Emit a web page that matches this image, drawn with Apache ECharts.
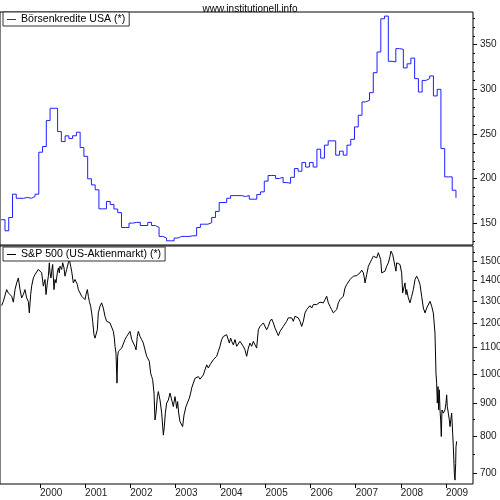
<!DOCTYPE html>
<html><head><meta charset="utf-8">
<script src="https://cdn.jsdelivr.net/npm/echarts@6/dist/echarts.min.js"></script>
<style>html,body{margin:0;padding:0;background:#fff}#c{width:500px;height:500px}</style>
</head><body><div id="c"></div>
<script>
// Börsenkredite USA (monthly, Mrd. USD), starting Feb 1999
const marginStart = 1999.14;
const marginDebt = [154,141.6,156.5,182.6,178,178,179,178,180,182.6,229.6,236,265,278.8,278.8,252.7,241.5,247.9,245,248,252,234.8,225,199.8,193,187.5,166.2,166.2,174.4,171,166,162,145.3,145.3,150.2,151,151,147.5,147.5,151,147.5,145.3,135.3,133.5,130.4,130.4,133.5,135.3,135.3,135.3,136,136,145.3,149,149,150.7,156.5,163.3,173.3,173.3,178,181,181,181,180,181,177,177,182.2,185.2,197.2,203.5,203.5,200.2,201.5,195.6,194.8,201.5,211.3,208.3,218,213,218,213,233,223,237.5,242.3,242.3,226.3,230.8,226.3,237.5,244,257.9,271,285.9,287.8,296.3,318.7,341.8,379,382,331.4,330.7,345.6,344.8,324,328.6,335,312,297,310,312,315,292.6,300,233.7,202,202,187,178.5];

// S&P 500 (decimal year, index level)
const spxDates = [1999.15,1999.187,1999.224,1999.261,1999.298,1999.335,1999.372,1999.409,1999.446,1999.483,1999.52,1999.557,1999.593,1999.63,1999.667,1999.704,1999.741,1999.763,1999.793,1999.815,1999.852,1999.889,1999.926,1999.963,2000.0,2000.037,2000.074,2000.111,2000.133,2000.163,2000.185,2000.207,2000.222,2000.244,2000.259,2000.281,2000.31,2000.333,2000.355,2000.37,2000.384,2000.407,2000.429,2000.443,2000.48,2000.503,2000.532,2000.554,2000.591,2000.628,2000.65,2000.68,2000.702,2000.739,2000.776,2000.813,2000.828,2000.85,2000.887,2000.924,2000.961,2000.998,2001.02,2001.05,2001.072,2001.094,2001.123,2001.146,2001.168,2001.197,2001.22,2001.242,2001.271,2001.293,2001.33,2001.367,2001.404,2001.441,2001.478,2001.515,2001.552,2001.589,2001.626,2001.648,2001.663,2001.685,2001.70,2001.707,2001.722,2001.737,2001.774,2001.811,2001.848,2001.885,2001.922,2001.959,2001.996,2002.033,2002.07,2002.106,2002.129,2002.158,2002.18,2002.217,2002.254,2002.291,2002.328,2002.365,2002.402,2002.424,2002.454,2002.476,2002.498,2002.528,2002.55,2002.572,2002.602,2002.624,2002.661,2002.698,2002.735,2002.757,2002.779,2002.809,2002.846,2002.883,2002.92,2002.956,2002.993,2003.016,2003.03,2003.052,2003.075,2003.104,2003.141,2003.163,2003.193,2003.215,2003.237,2003.267,2003.311,2003.341,2003.363,2003.40,2003.437,2003.474,2003.511,2003.548,2003.585,2003.622,2003.659,2003.696,2003.733,2003.769,2003.806,2003.843,2003.88,2003.917,2003.954,2003.991,2004.028,2004.065,2004.102,2004.139,2004.176,2004.198,2004.228,2004.25,2004.287,2004.324,2004.361,2004.398,2004.434,
2004.472,2004.508,2004.545,2004.582,2004.619,2004.656,2004.693,2004.730,2004.767,2004.804,2004.841,2004.878,2004.915,2004.952,2004.989,2005.026,2005.063,2005.100,2005.137,2005.174,2005.211,2005.248,2005.285,2005.322,2005.359,2005.395,2005.432,2005.469,2005.506,2005.543,2005.580,2005.617,2005.654,2005.691,2005.728,2005.765,2005.802,2005.839,2005.876,2005.913,2005.950,2005.987,2006.024,2006.061,2006.098,2006.135,2006.172,2006.209,2006.246,2006.283,2006.320,2006.357,2006.393,2006.430,2006.467,2006.504,2006.541,2006.578,2006.615,2006.652,2006.689,2006.726,2006.763,2006.800,2006.837,2006.874,2006.911,2006.948,2006.985,2007.022,2007.059,2007.096,2007.133,2007.170,2007.192,2007.207,2007.244,2007.281,2007.318,2007.355,2007.391,2007.428,2007.465,2007.502,2007.524,2007.554,2007.576,2007.613,2007.650,2007.687,2007.724,2007.761,2007.783,2007.820,2007.849,2007.871,2007.893,2007.908,2007.945,2007.982,2008.019,2008.041,2008.071,2008.093,2008.115,2008.130,2008.167,2008.204,2008.241,2008.278,2008.315,2008.352,2008.389,2008.426,2008.463,2008.500,2008.537,2008.574,2008.611,2008.648,2008.685,2008.721,2008.744,2008.758,2008.780,2008.795,2008.810,2008.825,2008.839,2008.854,2008.869,2008.884,2008.898,2008.913,2008.943,2008.980,2009.002,2009.017,2009.031,2009.054,2009.076,2009.091,2009.128,2009.150,2009.165,2009.187,2009.202,2009.217,2009.224,2009.239];
const spxValues = [1279,1299,1307,1355,1339,1331,1323,1295,1355,1388,1413,1355,1315,1331,1355,1315,1299,1246,1331,1372,1413,1430,1439,1457,1465,1439,1372,1405,1331,1388,1422,1492,1439,1413,1448,1483,1355,1405,1388,1380,1439,1465,1439,1474,1457,1492,1465,1422,1457,1492,1510,1474,1448,1388,1405,1397,1380,1355,1363,1323,1315,1307,1331,1355,1323,1299,1276,1246,1209,1152,1138,1132,1173,1246,1276,1292,1268,1231,1209,1216,1202,1194,1166,1138,1105,1078,1003,968,1066,1085,1078,1098,1105,1132,1145,1152,1166,1132,1118,1105,1091,1145,1166,1145,1132,1118,1091,1066,1059,1047,1003,991,980,934,848,869,922,939,911,869,803,828,869,901,911,934,928,890,922,901,884,906,869,843,838,828,863,858,890,901,917,934,951,968,985,980,991,982,985,997,1016,1034,1022,1034,1040,1053,1047,1066,1085,1105,1132,1145,1142,1152,1145,1118,1138,1125,1111,1132,1105,1098,1125,
1132,1105,1091,1066,1098,1118,1105,1125,1111,1098,1173,1187,1180,1202,1209,1173,1187,1209,1219,1202,1180,1173,1148,1166,1173,1187,1194,1209,1224,1231,1224,1209,1231,1238,1224,1209,1187,1209,1246,1261,1268,1279,1268,1284,1276,1284,1288,1295,1299,1292,1307,1323,1292,1276,1261,1246,1238,1261,1292,1307,1315,1323,1363,1380,1388,1405,1413,1422,1413,1425,1430,1439,1453,1439,1413,1388,1430,1474,1492,1510,1528,1537,1519,1547,1550,1510,1439,1448,1448,1474,1492,1528,1556,1537,1501,1474,1448,1492,1492,1483,1439,1339,1339,1388,1331,1355,1315,1292,1323,1355,1405,1422,1405,1380,1323,1268,1246,1268,1276,1299,1276,1246,1238,1159,1003,968,901,956,879,945,879,848,799,879,869,879,901,928,890,869,848,828,869,808,770,700,683,725,770,785];

const yearTicks = [2000,2001,2002,2003,2004,2005,2006,2007,2008,2009];
const marginLabels = [150,200,250,300,350];
const marginMinor = [130,140,160,170,180,190,210,220,230,240,260,270,280,290,310,320,330,340,360,370,380];
const spxLabels = [700,800,900,1000,1100,1200,1300,1400,1500];
const spxMinor = [750,850,950,1050,1150,1250,1350,1450,1550];

const FONT = 'Liberation Sans, Arial, sans-serif';
const marginData = marginDebt.map((v, k) => [marginStart + k / 12, v]);
const spxData = spxDates.map((d, i) => [d, spxValues[i]]);

const X_MIN = 1999.113, X_MAX = 2009.601;
const chart = echarts.init(document.getElementById('c'), null, {renderer: 'canvas'});

function xAx(gi, showLabels) {
  return {
    type: 'value', gridIndex: gi, min: X_MIN, max: X_MAX,
    axisLine: {show: false}, splitLine: {show: false},
    axisTick: {show: showLabels, customValues: yearTicks, length: 4, inside: false, lineStyle: {color: '#000'}},
    axisLabel: {show: showLabels, customValues: yearTicks, align: 'left', margin: 4,
      fontSize: 10, fontFamily: FONT, color: '#222', formatter: v => String(Math.round(v))}
  };
}
function yAx(gi, type, min, max, labels, ticks, len, showLabel) {
  const o = {
    type: type, gridIndex: gi, position: 'right', min: min, max: max,
    axisLine: {show: false}, splitLine: {show: false}, minorTick: {show: false},
    axisTick: {show: true, customValues: ticks, length: len, lineStyle: {color: '#000'}},
    axisLabel: {show: showLabel, customValues: labels, margin: 7, fontSize: 10, fontFamily: FONT, color: '#222',
      formatter: v => String(Math.round(v))}
  };
  if (type === 'log') o.logBase = 10;
  return o;
}

const legendBase = {orient: 'horizontal', padding: [2, 4, 1, 4], left: 3,
  borderColor: '#333', borderWidth: 1, backgroundColor: '#fff', icon: 'rect', itemWidth: 9, itemHeight: 1,
  textStyle: {fontSize: 10.6, fontFamily: FONT, color: '#000'}, selectedMode: false};

chart.setOption({
  animation: false,
  backgroundColor: '#ffffff',
  title: {text: 'www.institutionell.info', left: 'center', top: -1,
    textStyle: {fontSize: 10, fontWeight: 'normal', fontFamily: FONT, color: '#000'}},
  grid: [
    {left: 0, top: 12, width: 473, height: 233, show: true, borderColor: '#000', borderWidth: 1, backgroundColor: '#fff', outerBoundsMode: 'none'},
    {left: 0, top: 246, width: 473, height: 238, show: true, borderColor: '#000', borderWidth: 1, backgroundColor: '#fff', outerBoundsMode: 'none'}
  ],
  legend: [
    Object.assign({}, legendBase, {data: ['Börsenkredite USA (*)'], top: 12}),
    Object.assign({}, legendBase, {data: ['S&P 500 (US-Aktienmarkt) (*)'], top: 247})
  ],
  xAxis: [xAx(0, false), xAx(1, true)],
  yAxis: [
    yAx(0, 'value', 125.7, 386.6, marginLabels, marginLabels, 4, true),
    yAx(0, 'value', 125.7, 386.6, [], marginMinor, 2, false),
    yAx(1, 'log', 673.5, 1585, spxLabels, spxLabels, 4, true),
    yAx(1, 'log', 673.5, 1585, [], spxMinor, 2, false)
  ],
  series: [
    {name: 'Börsenkredite USA (*)', type: 'line', xAxisIndex: 0, yAxisIndex: 0, step: 'end',
      data: marginData, showSymbol: false, symbol: 'none', lineStyle: {color: '#1f1fff', width: 1}, itemStyle: {color: '#1f1fff'}},
    {name: 'S&P 500 (US-Aktienmarkt) (*)', type: 'line', xAxisIndex: 1, yAxisIndex: 2,
      data: spxData, showSymbol: false, symbol: 'none', lineStyle: {color: '#000', width: 1}, itemStyle: {color: '#000'}}
  ]
});
</script></body></html>
